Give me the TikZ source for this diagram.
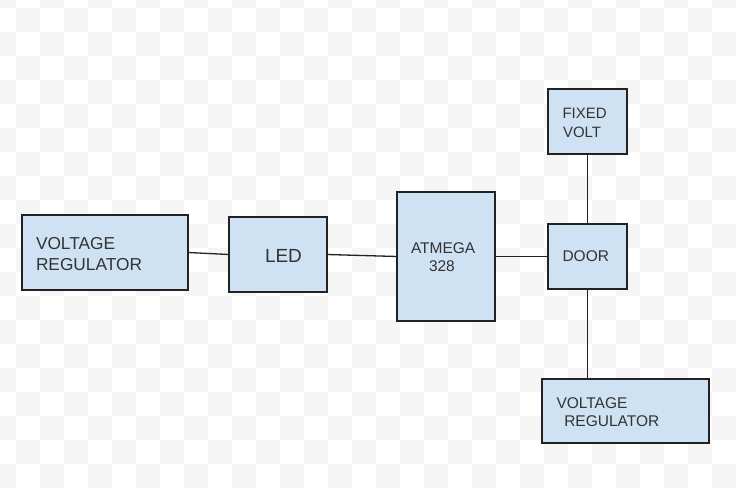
\documentclass[tikz,border=0pt]{standalone}
\usepackage{fontspec}
\newfontfamily\arial{Liberation Sans}
\definecolor{boxfill}{HTML}{CFE2F3}
\definecolor{boxline}{HTML}{222222}
\definecolor{txt}{HTML}{333333}
\definecolor{checker}{HTML}{F5F5F5}
\begin{document}
\begin{tikzpicture}[x=1pt,y=-1pt,
  box/.style={draw=boxline,fill=boxfill,line width=1.3pt,inner sep=0pt,outer sep=0pt,rectangle},
  lbl/.style={anchor=base west,inner sep=0pt,outer sep=0pt,text=txt,font=\arial\fontsize{#1}{#1}\selectfont},
  wire/.style={draw=boxline,line width=1.3pt}]
\useasboundingbox (0,0) rectangle (736,489);
\fill[white] (0,0) rectangle (736,489);
\begin{scope}
\clip (0,0) rectangle (736,489);
\foreach \i in {0,...,30}{
  \foreach \j in {0,...,20}{
    \pgfmathtruncatemacro\myparity{mod(\i+\j,2)}
    \ifnum\myparity=0
      \fill[checker] ({16+24*(\i-1)},{8+24*(\j-1)}) rectangle ++(24,24);
    \fi
  }
}
\end{scope}
% boxes
\node[box,minimum width=166pt,minimum height=75pt] (vr1) at (105,252.5) {};
\node[box,minimum width=98pt,minimum height=75pt] (led) at (278,254.5) {};
\node[box,minimum width=98pt,minimum height=129pt] (atm) at (446,256.5) {};
\node[box,minimum width=79pt,minimum height=65pt] (fv) at (587.5,121.5) {};
\node[box,minimum width=79pt,minimum height=65pt] (door) at (587.5,256.5) {};
\node[box,minimum width=167pt,minimum height=64pt] (vr2) at (625.5,411) {};
% connectors
\draw[wire] (vr1.east) -- (led.west);
\draw[wire] (led.east) -- (atm.west);
\draw[wire] (atm.east) -- (door.west);
\draw[wire] (fv.south) -- (door.north);
\draw[wire] (door.south) -- (door.south |- vr2.north);
% labels
\node[lbl=17.3] (t1) at (36,249.3) {VOLTAGE};
\node[lbl=17.3] (t2) at (36,270) {REGULATOR};
\node[lbl=19] (t3) at (265,262) {LED};
\node[lbl=15.5] (t4) at (411,253.3) {ATMEGA};
\node[lbl=15.5] (t5) at (429,271.7) {328};
\node[lbl=15] (t6) at (562.5,119) {FIXED};
\node[lbl=15] (t7) at (563,137.3) {VOLT};
\node[lbl=15.5] (t8) at (562.5,261.7) {DOOR};
\node[lbl=15.5] (t9) at (556.5,408.3) {VOLTAGE};
\node[lbl=15.5] (t10) at (564.3,426.7) {REGULATOR};
\end{tikzpicture}
\end{document}
